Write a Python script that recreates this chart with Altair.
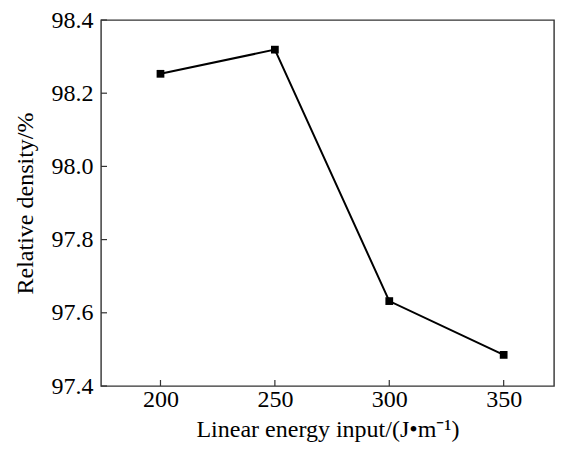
import altair as alt
import pandas as pd

energy = [200, 250, 300, 350]
density = [98.253, 98.319, 97.632, 97.485]
x_ticks = [200, 250, 300, 350]
y_ticks = [97.4, 97.6, 97.8, 98.0, 98.2, 98.4]

W, H = 453, 366
FONT = "Liberation Serif"
FS = 24

df = pd.DataFrame({"energy": energy, "density": density})
xt = pd.DataFrame({"t": x_ticks})
yt = pd.DataFrame({"t": y_ticks})

xscale = alt.Scale(domain=[174, 372], nice=False, zero=False)
yscale = alt.Scale(domain=[97.4, 98.4], nice=False, zero=False)

xaxis = alt.Axis(values=x_ticks, title="Linear energy input/(J\u2022m\u207b\u00b9)",
                 ticks=False, tickSize=0, labelPadding=1, titlePadding=6, grid=False,
                 domain=False, labelFontSize=FS, titleFontSize=FS,
                 labelFont=FONT, titleFont=FONT, labelColor="black", titleColor="black",
                 titleFontWeight="normal")
yaxis = alt.Axis(values=y_ticks, title="Relative density/%", format=".1f",
                 ticks=False, tickSize=0, labelPadding=8, titlePadding=14, grid=False,
                 domain=False, labelFontSize=FS, titleFontSize=FS,
                 labelFont=FONT, titleFont=FONT, labelColor="black", titleColor="black",
                 titleFontWeight="normal")

line = alt.Chart(df).mark_line(color="black", strokeWidth=2).encode(
    x=alt.X("energy:Q", scale=xscale, axis=xaxis),
    y=alt.Y("density:Q", scale=yscale, axis=yaxis),
)
pts = alt.Chart(df).mark_square(color="black", size=60, opacity=1).encode(
    x=alt.X("energy:Q", scale=xscale),
    y=alt.Y("density:Q", scale=yscale),
)
xtick = alt.Chart(xt).mark_rule(color="#333", strokeWidth=1.2).encode(
    x=alt.X("t:Q", scale=xscale),
    y=alt.value(H), y2=alt.value(H - 6),
)
ytick = alt.Chart(yt).mark_rule(color="#333", strokeWidth=1.2).encode(
    y=alt.Y("t:Q", scale=yscale),
    x=alt.value(0), x2=alt.value(6),
)

chart = alt.layer(xtick, ytick, line, pts).properties(
    width=W, height=H,
    autosize=alt.AutoSizeParams(type="none"),
    padding={"left": 93, "top": 12, "right": 1, "bottom": 61},
).configure(
    background="white", font=FONT
).configure_view(
    stroke="#333", strokeWidth=1.4
).configure_axis(labelFont=FONT, titleFont=FONT)

chart.save("out.html", embed_options={"renderer": "svg", "actions": False})
